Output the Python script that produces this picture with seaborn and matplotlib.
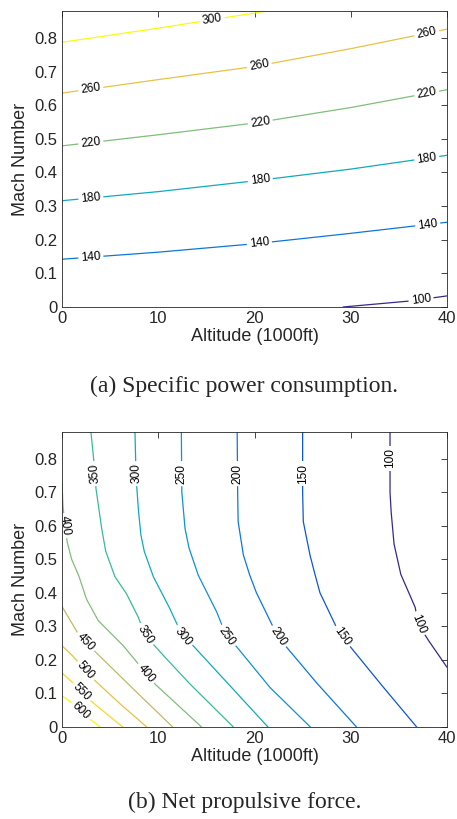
# -*- coding: utf-8 -*-
"""
Contour maps: specific power consumption and net propulsive force
over altitude and Mach number.
"""

import numpy as np
import pandas as pd
import matplotlib
matplotlib.use("Agg")
import matplotlib.pyplot as plt
import seaborn as sns
from matplotlib.colors import LinearSegmentedColormap

# ==========================
# Data
# ==========================

# (a) Specific power consumption: contour lines, altitude (1000ft) vs Mach
power_levels = [100, 140, 180, 220, 260, 300]
power_alt = {
    100: [29.2, 36.2, 40.0],
    140: [0, 10, 20, 30, 40],
    180: [0, 10, 20, 30, 40],
    220: [0, 10, 20, 30, 40],
    260: [0, 10, 20, 30, 40],
    300: [0, 10, 20, 21.2],
}
power_mach = {
    100: [0.0, 0.018, 0.033],
    140: [0.142, 0.163, 0.188, 0.219, 0.252],
    180: [0.316, 0.343, 0.375, 0.410, 0.451],
    220: [0.479, 0.512, 0.547, 0.593, 0.646],
    260: [0.636, 0.676, 0.715, 0.768, 0.826],
    300: [0.787, 0.829, 0.874, 0.880],
}

# (b) Net propulsive force: contour lines, altitude (1000ft) vs Mach
force_levels = [100, 150, 200, 250, 300, 350, 400, 450, 500, 550, 600]
force_alt = {
    100: [34.08, 34.08, 34.2, 34.5, 35.2, 36.7, 37.0, 38.1, 40.0],
    150: [25.0, 25.0, 25.07, 25.76, 26.3, 26.8, 28.4, 29.1, 30.1, 33.2, 36.85],
    200: [18.2, 18.25, 18.3, 18.84, 19.5, 20.2, 21.9, 22.47, 23.3, 26.5, 30.6],
    250: [12.4, 12.45, 12.78, 13.2, 14.16, 16.07, 17.1, 18.15, 21.6, 25.8],
    300: [7.58, 7.7, 7.95, 8.2, 8.55, 9.49, 11.2, 12.57, 13.47, 17.45, 21.4],
    350: [3.0, 3.32, 3.53, 4.12, 4.54, 5.5, 6.72, 7.93, 8.62, 10.7, 13.3, 17.8],
    400: [0.0, 0.1, 0.3, 0.55, 1.0, 1.75, 2.56, 3.77, 6.37, 9.66, 14.5],
    450: [0.0, 1.7, 3.43, 7.6, 11.5],
    500: [0.0, 1.0, 3.36, 6.0, 8.8],
    550: [0.0, 1.0, 2.9, 6.3],
    600: [0.0, 1.3, 2.6, 3.95],
}
force_mach = {
    100: [0.88, 0.7, 0.64, 0.545, 0.455, 0.356, 0.307, 0.257, 0.178],
    150: [0.88, 0.7, 0.612, 0.513, 0.453, 0.4, 0.304, 0.269, 0.234, 0.125, 0.0],
    200: [0.88, 0.7, 0.612, 0.513, 0.453, 0.4, 0.3, 0.269, 0.239, 0.13, 0.0],
    250: [0.88, 0.7, 0.592, 0.533, 0.452, 0.343, 0.269, 0.239, 0.118, 0.0],
    300: [0.88, 0.742, 0.643, 0.572, 0.523, 0.448, 0.353, 0.268, 0.247, 0.123, 0.0],
    350: [0.88, 0.79, 0.711, 0.592, 0.524, 0.448, 0.396, 0.327, 0.274, 0.208, 0.128, 0.0],
    400: [0.73, 0.66, 0.6, 0.55, 0.5, 0.45, 0.38, 0.317, 0.242, 0.128, 0.0],
    450: [0.359, 0.277, 0.225, 0.108, 0.0],
    500: [0.242, 0.215, 0.14, 0.07, 0.0],
    550: [0.161, 0.135, 0.08, 0.0],
    600: [0.093, 0.066, 0.03, 0.0],
}

alt_ticks = [0, 10, 20, 30, 40]
mach_ticks = [0, 0.1, 0.2, 0.3, 0.4, 0.5, 0.6, 0.7, 0.8]
mach_ticklabels = ['0', '0.1', '0.2', '0.3', '0.4', '0.5', '0.6', '0.7', '0.8']

# ==========================
# Label placement (inline contour labels)
# ==========================

# (a) labels placed at these altitudes on each line
power_label_alt = {
    100: [37.3],
    140: [3.0, 20.5, 38.0],
    180: [3.0, 20.6, 37.9],
    220: [3.0, 20.6, 37.9],
    260: [3.0, 20.5, 37.9],
    300: [15.6],
}
# (b) labels placed at these Mach numbers on each line
force_label_mach = {
    100: [0.80, 0.307],
    150: [0.755, 0.269],
    200: [0.755, 0.269],
    250: [0.755, 0.269],
    300: [0.755, 0.269],
    350: [0.755, 0.274],
    400: [0.60, 0.16],
    450: [0.254],
    500: [0.168],
    550: [0.105],
    600: [0.048],
}

# ==========================
# Colours (parula-like)
# ==========================

parula = LinearSegmentedColormap.from_list('parula', [
    (0.2081, 0.1663, 0.5292),
    (0.0117, 0.3875, 0.8820),
    (0.0793, 0.5200, 0.8312),
    (0.0228, 0.6535, 0.7768),
    (0.2178, 0.7250, 0.6193),
    (0.5709, 0.7485, 0.4494),
    (0.8507, 0.7299, 0.3360),
    (0.9880, 0.8066, 0.1794),
    (0.9763, 0.9831, 0.0538),
])

power_palette = {lv: parula((lv - 100) / 200) for lv in power_levels}
force_palette = {lv: parula((lv - 100) / 500) for lv in force_levels}


def to_frame(levels, alts, machs):
    rows = []
    for lv in levels:
        for a, m in zip(alts[lv], machs[lv]):
            rows.append({'level': lv, 'alt': a, 'mach': m})
    return pd.DataFrame(rows)


def label_line(ax, xs, ys, text, at, along_x, upward=False):
    xs = np.asarray(xs, float)
    ys = np.asarray(ys, float)
    if along_x:
        x0 = at
        y0 = np.interp(at, xs, ys)
        x1, x2 = at - 0.5, at + 0.5
        y1, y2 = np.interp([x1, x2], xs, ys)
    else:
        order = np.argsort(ys)
        y0 = at
        x0 = np.interp(at, ys[order], xs[order])
        y1, y2 = at - 0.015, at + 0.015
        x1, x2 = np.interp([y1, y2], ys[order], xs[order])
    p1, p2 = ax.transData.transform([(x1, y1), (x2, y2)])
    ang = np.degrees(np.arctan2(p2[1] - p1[1], p2[0] - p1[0]))
    if not along_x and not upward:
        ang -= 180
    ax.text(x0, y0, text, rotation=ang, rotation_mode='anchor',
            ha='center', va='center', fontsize=8.6, color='black',
            bbox=dict(boxstyle='square,pad=0.22', fc='white', ec='none'),
            zorder=2.2, clip_on=True)


def style_axes(ax):
    ax.set_xlim(0, 40)
    ax.set_ylim(0, 0.88)
    ax.set_xticks(alt_ticks)
    ax.set_yticks(mach_ticks, mach_ticklabels)
    ax.set_xlabel('Altitude (1000ft)', fontsize=13, color='#262626', labelpad=1)
    ax.set_ylabel('Mach Number', fontsize=13, color='#262626', labelpad=4)
    ax.tick_params(direction='in', top=True, right=True, length=4,
                   width=0.6, colors='#262626', labelsize=12, pad=3)
    for sp in ax.spines.values():
        sp.set_visible(True)
        sp.set_color('#262626')
        sp.set_linewidth(0.6)
        sp.set_zorder(2.5)


sns.set_style('white')
plt.rcParams['font.family'] = ['Liberation Sans', 'DejaVu Sans']

fig = plt.figure(figsize=(4.57, 8.19), dpi=100)
ax_a = fig.add_axes([62 / 457, 1 - 307 / 819, 385 / 457, 296 / 819])
ax_b = fig.add_axes([62 / 457, 1 - 727 / 819, 385 / 457, 295.3 / 819])

# ==========================
# (a) Specific power consumption
# ==========================

df_a = to_frame(power_levels, power_alt, power_mach)
sns.lineplot(data=df_a, x='alt', y='mach', hue='level', palette=power_palette,
             sort=False, estimator=None, legend=False, linewidth=0.9, ax=ax_a)
style_axes(ax_a)
for lv in power_levels:
    for at in power_label_alt[lv]:
        label_line(ax_a, power_alt[lv], power_mach[lv], str(lv), at, along_x=True)

# ==========================
# (b) Net propulsive force
# ==========================

df_b = to_frame(force_levels, force_alt, force_mach)
sns.lineplot(data=df_b, x='alt', y='mach', hue='level', palette=force_palette,
             sort=False, estimator=None, legend=False, linewidth=0.9, ax=ax_b)
style_axes(ax_b)
for lv in force_levels:
    for at in force_label_mach[lv]:
        label_line(ax_b, force_alt[lv], force_mach[lv], str(lv), at,
                   along_x=False, upward=at >= 0.7)

# captions
fig.text(0.535, 1 - 386 / 819, '(a) Specific power consumption.',
         ha='center', va='center', fontsize=17, family='Liberation Serif')
fig.text(0.536, 1 - 802 / 819, '(b) Net propulsive force.',
         ha='center', va='center', fontsize=17, family='Liberation Serif')

fig.savefig('out.png', dpi=100)
